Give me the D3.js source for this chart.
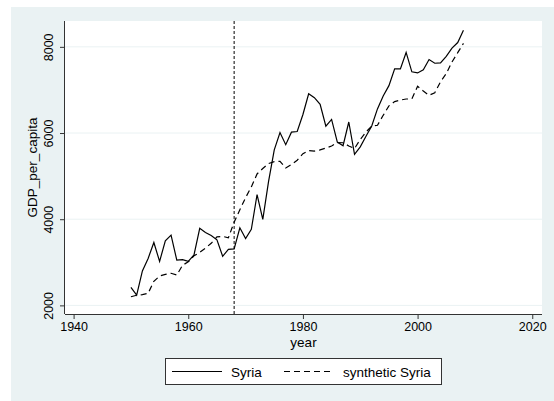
<!DOCTYPE html>
<head>
    <meta charset="utf-8">
    <title>Syria vs synthetic Syria</title>
    <style>
        body { margin: 0; background: #fff; }
        text { font-family: "Liberation Sans", Arial, sans-serif; fill: #000; }
    </style>
</head>
<body>
    <script src="https://d3js.org/d3.v7.min.js"></script>
    <script>

        // data
        var years = d3.range(1950, 2009);
        var syria = [2420, 2240, 2800, 3090, 3460, 3020, 3500, 3630, 3050, 3060,
            3020, 3170, 3790, 3690, 3620, 3520, 3140, 3300, 3310, 3800,
            3550, 3765, 4570, 3995, 4870, 5610, 6010, 5730, 6020, 6035,
            6430, 6910, 6820, 6666, 6160, 6315, 5790, 5705, 6256, 5507,
            5680, 5924, 6165, 6560, 6860, 7100, 7490, 7490, 7870, 7420,
            7395, 7470, 7705, 7620, 7630, 7780, 7970, 8100, 8385];
        var synthetic = [2200, 2235, 2250, 2280, 2560, 2680, 2720, 2745, 2705, 2930,
            3010, 3150, 3230, 3330, 3440, 3590, 3600, 3570, 3930, 4220,
            4500, 4750, 5050, 5176, 5292, 5335, 5345, 5190, 5268, 5368,
            5520, 5595, 5580, 5610, 5650, 5700, 5778, 5775, 5700, 5640,
            5850, 6024, 6160, 6180, 6411, 6630, 6730, 6765, 6790, 6790,
            7085, 6975, 6875, 6935, 7190, 7380, 7650, 7865, 8080];
        var xTicks = [1940, 1960, 1980, 2000, 2020];
        var yTicks = [2000, 4000, 6000, 8000];
        var treatYear = 1968;
        var seriesNames = ["Syria", "synthetic Syria"];

        var W = 554, H = 401;
        var plot = { left: 65, right: 542, top: 21, bottom: 314 };

        var svg = d3.select('body').append('svg')
            .attr('width', W)
            .attr('height', H);

        // graph region
        svg.append('rect')
            .attr('x', 11).attr('y', 7)
            .attr('width', W - 11).attr('height', H - 7)
            .attr('fill', '#eaf2f3');

        svg.append('rect')
            .attr('x', plot.left).attr('y', plot.top)
            .attr('width', plot.right - plot.left).attr('height', plot.bottom - plot.top)
            .attr('fill', '#fff');

        var x = d3.scaleLinear()
            .domain([1938.5, 2021.7])
            .range([plot.left, plot.right]);

        var y = d3.scaleLinear()
            .domain([1800, 8600])
            .range([plot.bottom, plot.top]);

        // gridlines
        svg.append('g')
            .selectAll('line')
            .data(yTicks)
            .enter().append('line')
            .attr('x1', plot.left).attr('x2', plot.right)
            .attr('y1', function (d) { return y(d); })
            .attr('y2', function (d) { return y(d); })
            .attr('stroke', '#eaf2f3')
            .attr('stroke-width', 1);

        var xAxis = d3.axisBottom(x)
            .tickValues(xTicks)
            .tickSize(5)
            .tickPadding(3)
            .tickFormat(d3.format('d'));

        var yAxis = d3.axisLeft(y)
            .tickValues(yTicks)
            .tickSize(5)
            .tickFormat(d3.format('d'));

        var gx = svg.append('g')
            .attr('transform', 'translate(0,' + plot.bottom + ')')
            .call(xAxis);
        gx.select('.domain').attr('d', 'M' + plot.left + ',0.5H' + plot.right);

        var gy = svg.append('g')
            .attr('transform', 'translate(' + plot.left + ',0)')
            .call(yAxis);
        gy.select('.domain').attr('d', 'M-0.5,' + plot.top + 'V' + plot.bottom);

        [gx, gy].forEach(function (g) {
            g.selectAll('.domain, .tick line').attr('stroke', '#333');
            g.selectAll('text')
                .attr('fill', '#000')
                .style('font-size', '12.5px')
                .style('font-family', '"Liberation Sans", Arial, sans-serif');
        });

        gy.selectAll('.tick text')
            .attr('x', null).attr('dy', null)
            .attr('transform', 'translate(-12,0) rotate(-90)')
            .attr('text-anchor', 'middle');

        svg.append('text')
            .attr('transform', 'translate(37,' + ((plot.top + plot.bottom) / 2) + ') rotate(-90)')
            .attr('text-anchor', 'middle')
            .style('font-size', '13.5px')
            .text('GDP_per_capita');

        svg.append('text')
            .attr('x', (plot.left + plot.right) / 2)
            .attr('y', 347)
            .attr('text-anchor', 'middle')
            .style('font-size', '13.5px')
            .text('year');

        // treatment line
        svg.append('line')
            .attr('x1', x(treatYear)).attr('x2', x(treatYear))
            .attr('y1', plot.top).attr('y2', plot.bottom)
            .attr('stroke', '#000')
            .attr('stroke-width', 1)
            .attr('stroke-dasharray', '3,2');

        var line = d3.line()
            .x(function (d, i) { return x(years[i]); })
            .y(function (d) { return y(d); });

        svg.append('path')
            .datum(syria)
            .attr('d', line)
            .attr('fill', 'none')
            .attr('stroke', '#000')
            .attr('stroke-width', 1.2);

        svg.append('path')
            .datum(synthetic)
            .attr('d', line)
            .attr('fill', 'none')
            .attr('stroke', '#000')
            .attr('stroke-width', 1.2)
            .attr('stroke-dasharray', '6,4');

        // legend
        var lg = svg.append('g');
        lg.append('rect')
            .attr('x', 165.5).attr('y', 358.5)
            .attr('width', 276).attr('height', 26)
            .attr('fill', '#fff')
            .attr('stroke', '#333')
            .attr('stroke-width', 1);

        var items = [
            { name: seriesNames[0], x0: 172, dash: null, tx: 231 },
            { name: seriesNames[1], x0: 284, dash: '6,4', tx: 343 }
        ];
        items.forEach(function (it) {
            lg.append('line')
                .attr('x1', it.x0).attr('x2', it.x0 + 50)
                .attr('y1', 371.5).attr('y2', 371.5)
                .attr('stroke', '#000')
                .attr('stroke-width', 1.2)
                .attr('stroke-dasharray', it.dash);
            lg.append('text')
                .attr('x', it.tx)
                .attr('y', 376.5)
                .style('font-size', '13.5px')
                .text(it.name);
        });

    </script>
</body>
